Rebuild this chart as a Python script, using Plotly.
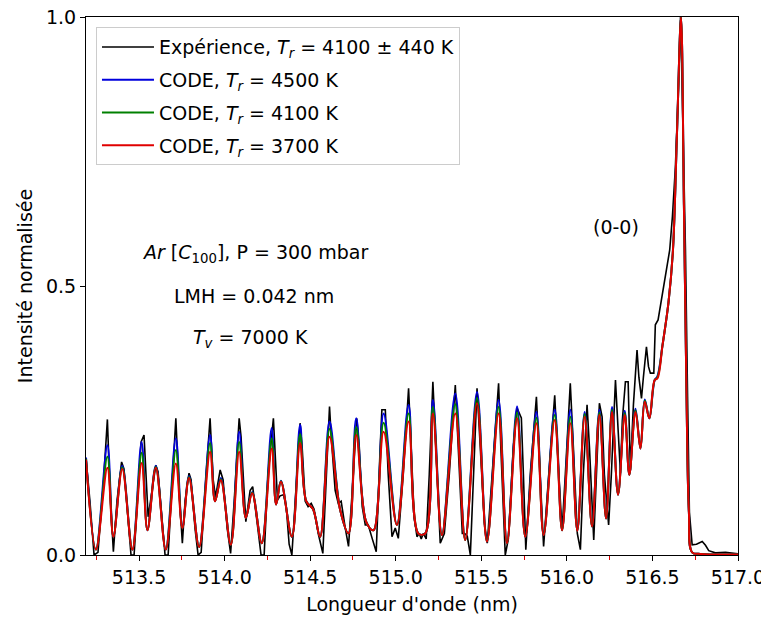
import plotly.graph_objects as go

# ---------------- data ----------------
sim_wl = [513.190, 513.248, 513.315, 513.350, 513.402, 513.461, 513.515, 513.549, 513.598, 513.656,
          513.715, 513.753, 513.792, 513.851, 513.915, 513.944, 513.978, 514.036, 514.085, 514.124,
          514.161, 514.217, 514.275, 514.301, 514.329, 514.393, 514.441, 514.477, 514.517, 514.558,
          514.613, 514.675, 514.724, 514.769, 514.827, 514.870, 514.929, 515.007, 515.075, 515.132,
          515.172, 515.217, 515.270, 515.348, 515.406, 515.475, 515.533, 515.601, 515.650, 515.709,
          515.757, 515.822, 515.864, 515.929, 515.972, 516.020, 516.061, 516.104, 516.147, 516.190,
          516.229, 516.264, 516.299, 516.338, 516.365, 516.401, 516.430, 516.455, 516.482, 516.513,
          516.529, 516.559, 516.594, 516.620, 516.643, 516.667, 516.684, 516.699, 516.713, 516.732,
          516.781, 517.000]

sim_3700 = [0.177, 0.010, 0.162, 0.034, 0.160, 0.010, 0.171, 0.046, 0.162, 0.010,
            0.170, 0.050, 0.143, 0.015, 0.192, 0.100, 0.139, 0.019, 0.192, 0.069,
            0.115, 0.022, 0.198, 0.094, 0.136, 0.034, 0.208, 0.100, 0.085, 0.034,
            0.220, 0.084, 0.040, 0.223, 0.062, 0.046, 0.229, 0.056, 0.248, 0.040,
            0.040, 0.263, 0.037, 0.263, 0.028, 0.282, 0.025, 0.263, 0.022, 0.254,
            0.034, 0.245, 0.037, 0.251, 0.046, 0.245, 0.045, 0.257, 0.053, 0.260,
            0.068, 0.266, 0.112, 0.260, 0.149, 0.266, 0.198, 0.285, 0.254, 0.325,
            0.328, 0.390, 0.470, 0.567, 0.780, 1.000, 0.650, 0.300, 0.080, 0.005,
            0.002, 0.001]

sim_4100 = [0.179, 0.010, 0.183, 0.034, 0.163, 0.010, 0.190, 0.046, 0.164, 0.010,
            0.195, 0.050, 0.145, 0.015, 0.208, 0.100, 0.141, 0.019, 0.210, 0.069,
            0.116, 0.022, 0.217, 0.094, 0.137, 0.034, 0.225, 0.100, 0.085, 0.034,
            0.234, 0.084, 0.040, 0.238, 0.062, 0.046, 0.246, 0.056, 0.263, 0.040,
            0.040, 0.275, 0.037, 0.280, 0.028, 0.292, 0.025, 0.275, 0.022, 0.265,
            0.034, 0.255, 0.037, 0.260, 0.046, 0.257, 0.045, 0.262, 0.053, 0.265,
            0.068, 0.270, 0.112, 0.264, 0.149, 0.269, 0.198, 0.287, 0.254, 0.325,
            0.330, 0.390, 0.470, 0.567, 0.780, 1.000, 0.650, 0.300, 0.080, 0.005,
            0.002, 0.001]

sim_4500 = [0.181, 0.010, 0.204, 0.034, 0.166, 0.010, 0.210, 0.046, 0.166, 0.010,
            0.217, 0.050, 0.147, 0.015, 0.223, 0.100, 0.143, 0.019, 0.229, 0.069,
            0.117, 0.022, 0.236, 0.094, 0.138, 0.034, 0.242, 0.100, 0.085, 0.034,
            0.248, 0.084, 0.040, 0.254, 0.062, 0.046, 0.263, 0.056, 0.279, 0.040,
            0.040, 0.288, 0.037, 0.300, 0.028, 0.303, 0.025, 0.288, 0.022, 0.276,
            0.034, 0.266, 0.037, 0.270, 0.046, 0.270, 0.045, 0.266, 0.053, 0.270,
            0.068, 0.275, 0.112, 0.268, 0.149, 0.272, 0.198, 0.289, 0.254, 0.325,
            0.332, 0.390, 0.470, 0.567, 0.780, 1.000, 0.650, 0.300, 0.080, 0.005,
            0.002, 0.001]

exp_wl = [513.190, 513.213, 513.237, 513.260, 513.289, 513.315, 513.330, 513.350, 513.371, 513.398,
          513.412, 513.436, 513.453, 513.471, 513.494, 513.512, 513.529, 513.544, 513.553, 513.567,
          513.598, 513.611, 513.634, 513.652, 513.670, 513.693, 513.715, 513.734, 513.753, 513.769,
          513.792, 513.804, 513.827, 513.845, 513.863, 513.892, 513.915, 513.933, 513.947, 513.974,
          513.991, 514.015, 514.035, 514.056, 514.085, 514.096, 514.124, 514.149, 514.164, 514.190,
          514.213, 514.231, 514.254, 514.285, 514.295, 514.309, 514.324, 514.344, 514.360, 514.377,
          514.393, 514.412, 514.441, 514.453, 514.471, 514.488, 514.506, 514.523, 514.547, 514.574,
          514.594, 514.613, 514.623, 514.646, 514.664, 514.681, 514.705, 514.724, 514.746, 514.772,
          514.787, 514.804, 514.822, 514.839, 514.863, 514.886, 514.909, 514.919, 514.939, 514.956,
          514.978, 514.997, 515.015, 515.044, 515.075, 515.091, 515.108, 515.124, 515.137, 515.149,
          515.161, 515.178, 515.196, 515.217, 515.231, 515.249, 515.260, 515.284, 515.313, 515.348,
          515.365, 515.389, 515.403, 515.418, 515.436, 515.453, 515.475, 515.494, 515.518, 515.535,
          515.564, 515.601, 515.614, 515.629, 515.640, 515.658, 515.687, 515.709, 515.734, 515.746,
          515.760, 515.786, 515.822, 515.839, 515.864, 515.892, 515.929, 515.944, 515.972, 515.991,
          516.020, 516.038, 516.061, 516.079, 516.096, 516.118, 516.132, 516.157, 516.172, 516.190,
          516.206, 516.219, 516.244, 516.260, 516.284, 516.295, 516.313, 516.324, 516.342, 516.358,
          516.371, 516.389, 516.410, 516.421, 516.436, 516.447, 516.465, 516.477, 516.488, 516.508,
          516.517, 516.533, 516.547, 516.566, 516.586, 516.601, 516.617, 516.634, 516.652, 516.664,
          516.675, 516.693, 516.705, 516.716, 516.732, 516.757, 516.791, 516.810, 516.829, 516.868,
          516.927, 517.000]

exp_int = [0.180, 0.100, 0.000, 0.005, 0.120, 0.252, 0.120, 0.006, 0.100, 0.173,
           0.160, 0.060, 0.000, 0.000, 0.120, 0.210, 0.223, 0.120, 0.071, 0.100,
           0.167, 0.155, 0.060, 0.000, 0.000, 0.130, 0.254, 0.120, 0.022, 0.100,
           0.152, 0.140, 0.050, 0.000, 0.005, 0.150, 0.254, 0.140, 0.108, 0.158,
           0.140, 0.050, 0.003, 0.100, 0.254, 0.220, 0.062, 0.120, 0.127, 0.060,
           0.000, 0.000, 0.150, 0.254, 0.200, 0.102, 0.110, 0.112, 0.090, 0.020,
           0.000, 0.100, 0.245, 0.200, 0.100, 0.090, 0.096, 0.085, 0.040, 0.003,
           0.150, 0.276, 0.220, 0.120, 0.096, 0.100, 0.050, 0.016, 0.120, 0.254,
           0.200, 0.090, 0.056, 0.056, 0.030, 0.006, 0.200, 0.270, 0.270, 0.150,
           0.034, 0.050, 0.031, 0.150, 0.310, 0.200, 0.070, 0.034, 0.040, 0.030,
           0.040, 0.030, 0.150, 0.322, 0.220, 0.080, 0.022, 0.040, 0.150, 0.316,
           0.200, 0.040, 0.040, 0.035, 0.000, 0.150, 0.310, 0.200, 0.060, 0.022,
           0.150, 0.319, 0.200, 0.070, 0.000, 0.030, 0.200, 0.273, 0.255, 0.150,
           0.010, 0.150, 0.294, 0.180, 0.016, 0.140, 0.297, 0.200, 0.046, 0.150,
           0.319, 0.200, 0.040, 0.010, 0.150, 0.279, 0.200, 0.028, 0.150, 0.282,
           0.257, 0.150, 0.056, 0.150, 0.325, 0.250, 0.152, 0.250, 0.322, 0.322,
           0.158, 0.280, 0.381, 0.330, 0.291, 0.330, 0.387, 0.350, 0.338, 0.338,
           0.428, 0.437, 0.465, 0.499, 0.539, 0.567, 0.630, 0.720, 0.870, 1.000,
           0.850, 0.567, 0.300, 0.080, 0.019, 0.020, 0.025, 0.018, 0.008, 0.004,
           0.005, 0.002]

x_ticks = [513.5, 514.0, 514.5, 515.0, 515.5, 516.0, 516.5, 517.0]
y_ticks = [0.0, 0.5, 1.0]

FONT = "DejaVu Sans"
FS = 19

fig = go.Figure()
fig.add_trace(go.Scatter(x=exp_wl, y=exp_int, mode="lines",
                         line=dict(color="#000000", width=1.6),
                         name="Expérience, <i>T</i><sub><i>r</i></sub> = 4100 ± 440 K",
                         legendgroup="a"))
fig.add_trace(go.Scatter(x=sim_wl, y=sim_4500, mode="lines",
                         line=dict(color="#0000dd", width=2, shape="spline", smoothing=1.0),
                         name="CODE, <i>T</i><sub><i>r</i></sub> = 4500 K", legendgroup="b"))
fig.add_trace(go.Scatter(x=sim_wl, y=sim_4100, mode="lines",
                         line=dict(color="#008000", width=2, shape="spline", smoothing=1.0),
                         name="CODE, <i>T</i><sub><i>r</i></sub> = 4100 K", legendgroup="c"))
fig.add_trace(go.Scatter(x=sim_wl, y=sim_3700, mode="lines",
                         line=dict(color="#e00000", width=2, shape="spline", smoothing=1.0),
                         name="CODE, <i>T</i><sub><i>r</i></sub> = 3700 K", legendgroup="d"))

ann_font = dict(family=FONT, size=FS, color="black")
fig.add_annotation(x=514.178, y=0.561, xref="x", yref="y", showarrow=False,
                   text="<i>Ar</i> [<i>C</i><sub>100</sub>], P = 300 mbar", font=ann_font)
fig.add_annotation(x=514.17, y=0.481, xref="x", yref="y", showarrow=False,
                   text="LMH = 0.042 nm", font=ann_font)
fig.add_annotation(x=514.15, y=0.403, xref="x", yref="y", showarrow=False,
                   text="<i>T</i><sub><i>v</i></sub> = 7000 K", font=ann_font)
fig.add_annotation(x=516.289, y=0.61, xref="x", yref="y", showarrow=False,
                   text="(0-0)", font=ann_font)

# margins compensate for the page's 8px body margin
fig.update_layout(
    width=769, height=618,
    margin=dict(l=78, r=39, t=9, b=71, autoexpand=False),
    paper_bgcolor="white", plot_bgcolor="white",
    font=dict(family=FONT, size=FS, color="black"),
    showlegend=True,
    legend=dict(x=0.0153, y=0.981, xanchor="left", yanchor="top",
                bgcolor="rgba(255,255,255,0.8)", bordercolor="#cccccc", borderwidth=1,
                font=dict(family=FONT, size=FS, color="black"),
                traceorder="grouped", tracegroupgap=5, itemwidth=52),
    xaxis=dict(range=[513.19, 517.0], tickvals=x_ticks,
               ticktext=[f"{v:.1f}" for v in x_ticks], automargin=False,
               ticklabeloverflow="allow",
               showgrid=False, zeroline=False, showline=True, linecolor="black",
               linewidth=1.2, mirror=True, ticks="outside", ticklen=5, tickcolor="black",
               tickfont=dict(family=FONT, size=FS, color="black"),
               minor=dict(tick0=513.25, dtick=0.5, ticks="outside", ticklen=4,
                          tickcolor="#e00000", tickwidth=1),
               title=dict(text="Longueur d'onde (nm)", font=dict(family=FONT, size=FS, color="black"),
                          standoff=10)),
    yaxis=dict(range=[0, 1], tickvals=y_ticks, ticktext=["0.0", "0.5", "1.0"], automargin=False,
               ticklabeloverflow="allow",
               showgrid=False, zeroline=False, showline=True, linecolor="black",
               linewidth=1.2, mirror=True, ticks="outside", ticklen=5, tickcolor="black",
               tickfont=dict(family=FONT, size=FS, color="black"),
               title=dict(text="Intensité normalisée", font=dict(family=FONT, size=FS, color="black"),
                          standoff=8)),
)

fig.write_html("out.html")
